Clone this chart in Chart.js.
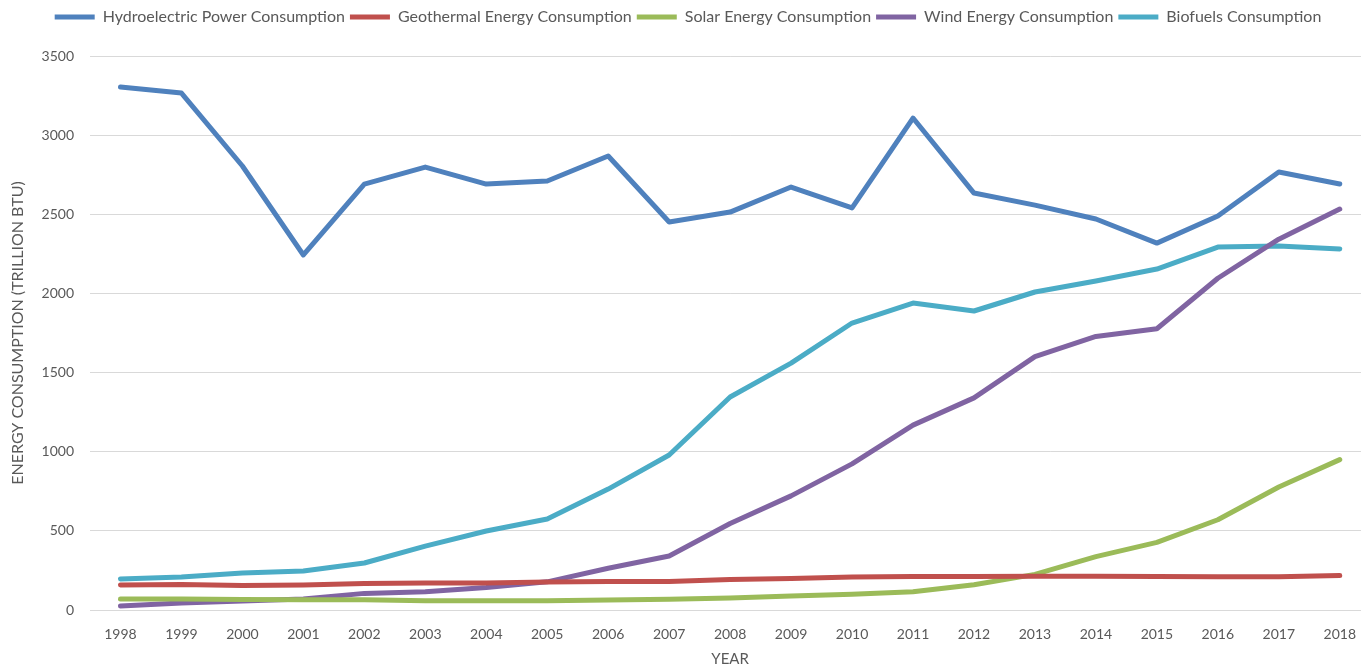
<!DOCTYPE html>
<html><head><meta charset="utf-8">
<script src="https://cdn.jsdelivr.net/npm/chart.js@4/dist/chart.umd.min.js"></script>
<style>
html,body{margin:0;padding:0;background:#fff;overflow:hidden;}
#wrap{position:relative;width:1372px;height:668px;}
</style></head>
<body><div id="wrap"><canvas id="c"></canvas></div>
<script>
const years = ['1998','1999','2000','2001','2002','2003','2004','2005','2006','2007','2008','2009','2010','2011','2012','2013','2014','2015','2016','2017','2018'];
const hydro = [3304,3266,2805,2243,2691,2798,2691,2710,2868,2451,2514,2672,2540,3108,2634,2558,2470,2318,2489,2767,2691];
const geothermal = [158,161,155,158,167,170,170,177,180,180,192,199,208,212,212,214,214,212,210,210,218];
const solar = [70,69,66,65,64,58,58,58,63,68,76,89,99,115,159,225,337,427,570,777,950];
const wind = [25,44,57,70,105,115,142,178,264,341,546,721,923,1168,1340,1601,1728,1777,2096,2343,2533];
const biofuels = [196,208,234,246,297,404,499,575,764,979,1346,1560,1813,1939,1889,2009,2078,2154,2293,2299,2281];
const seriesNames = ['Hydroelectric Power Consumption','Geothermal Energy Consumption','Solar Energy Consumption','Wind Energy Consumption','Biofuels Consumption'];
const colors = ['#4F81BD','#C0504D','#9BBB59','#8064A2','#4BACC6'];
const allData = [hydro, geothermal, solar, wind, biofuels];

const datasets = allData.map((d,i)=>({
  label: seriesNames[i], data: d, borderColor: colors[i], backgroundColor: colors[i],
  borderWidth: 5, pointRadius: 0, borderCapStyle: 'round', borderJoinStyle: 'round', tension: 0
}));
Chart.defaults.font.family = 'Lato, "Open Sans", sans-serif';
Chart.defaults.color = '#595959';
const legendHeight = {
  id: 'legendHeight',
  beforeInit(chart) {
    const orig = chart.legend.fit;
    chart.legend.fit = function () { orig.call(this); this.height = 52; };
  }
};
new Chart(document.getElementById('c'), {
  type: 'line',
  data: { labels: years, datasets },
  plugins: [legendHeight],
  options: {
    responsive: true, maintainAspectRatio: false, animation: false,
    layout: { padding: { left: 4, right: 0, top: 4, bottom: 0 } },
    plugins: {
      tooltip: { enabled: false },
      legend: {
        position: 'top',
        labels: { usePointStyle: true, pointStyle: 'line', pointStyleWidth: 40, boxHeight: 16,
          font: { size: 16 }, color: '#595959', padding: 5 }
      }
    },
    scales: {
      x: {
        offset: true,
        afterFit: s => { s.height = 58; },
        grid: { display: false, drawTicks: false },
        border: { display: true, color: '#d9d9d9', width: 1 },
        ticks: { font: { size: 14 }, color: '#595959', padding: 16, maxRotation: 0 },
        title: { display: true, text: 'YEAR', font: { size: 15 }, color: '#595959', padding: { top: 0, bottom: 0 } }
      },
      y: {
        min: 0, max: 3500,
        afterFit: s => { s.width = 86; },
        ticks: { stepSize: 100, font: { size: 14 }, color: '#595959', padding: 16,
          callback: v => (v % 500 === 0 ? String(v) : null) },
        grid: { drawTicks: false, color: ctx => (ctx.tick && ctx.tick.value % 500 === 0 ? '#d9d9d9' : '#efefef'), lineWidth: 1 },
        border: { display: false },
        title: { display: true, text: 'ENERGY CONSUMPTION (TRILLION BTU)', font: { size: 16 }, color: '#595959', padding: { top: 4, bottom: 4 } }
      }
    }
  }
});
</script></body></html>
